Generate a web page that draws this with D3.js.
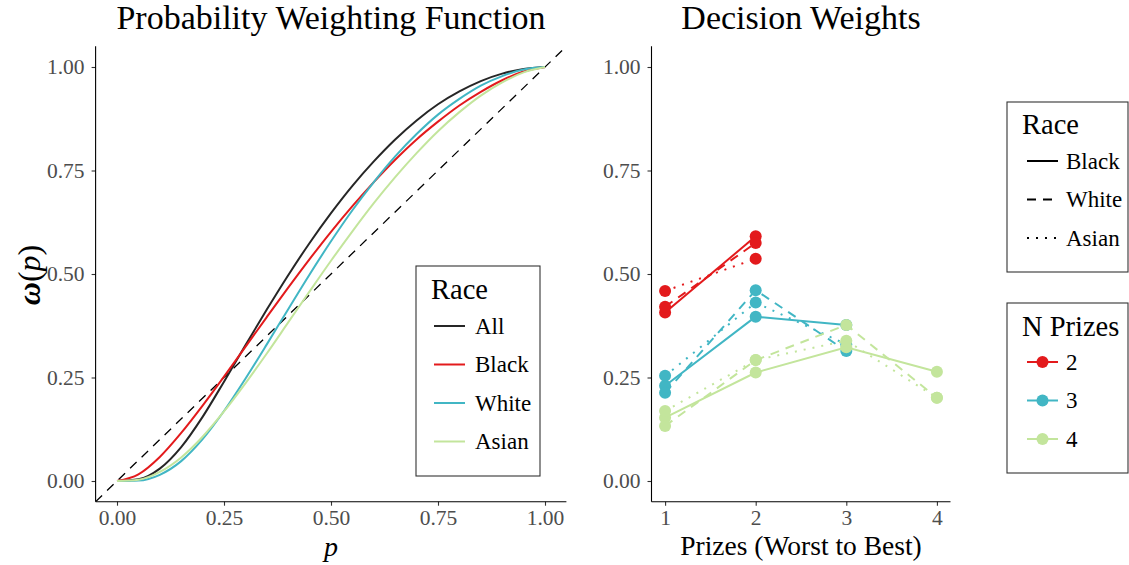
<!DOCTYPE html>
<html lang="en">
<head>
<meta charset="UTF-8">
<title>Probability Weighting Function / Decision Weights</title>
<script src="https://d3js.org/d3.v7.min.js"></script>
<style>
  body { margin: 0; background: #fff; }
  svg text { font-family: "Liberation Serif", "Times New Roman", Times, serif; }
</style>
</head>
<body>
<div id="chart"></div>
<script>
const pGrid  = [0, 0.05, 0.10, 0.15, 0.20, 0.25, 0.30, 0.35, 0.40, 0.45, 0.50,
                0.55, 0.60, 0.65, 0.70, 0.75, 0.80, 0.85, 0.90, 0.95, 1];
const wAll   = [0, 0.004, 0.030, 0.082, 0.155, 0.240, 0.328, 0.414, 0.497, 0.575, 0.647,
                0.713, 0.772, 0.825, 0.871, 0.910, 0.941, 0.966, 0.984, 0.995, 1];
const wBlack = [0, 0.016, 0.058, 0.116, 0.182, 0.252, 0.324, 0.396, 0.467, 0.536, 0.602,
                0.664, 0.722, 0.776, 0.825, 0.868, 0.907, 0.940, 0.968, 0.989, 1];
const wWhite = [0, 0.001, 0.015, 0.048, 0.101, 0.169, 0.247, 0.330, 0.415, 0.499, 0.579,
                0.654, 0.722, 0.784, 0.838, 0.885, 0.923, 0.955, 0.978, 0.994, 1];
const wAsian = [0, 0.003, 0.022, 0.057, 0.107, 0.168, 0.236, 0.308, 0.383, 0.458, 0.532,
                0.603, 0.671, 0.734, 0.792, 0.845, 0.891, 0.931, 0.963, 0.987, 1];
const curveNames = ["All", "Black", "White", "Asian"];

// ---- data: decision weights by number of prizes (index 0 = 2 prizes, 1 = 3, 2 = 4) ----
const nPrizes = [2, 3, 4];
const dwBlack = [[0.407, 0.591], [0.230, 0.397, 0.377], [0.153, 0.262, 0.323, 0.264]];
const dwWhite = [[0.421, 0.575], [0.213, 0.461, 0.314], [0.133, 0.292, 0.377, 0.201]];
const dwAsian = [[0.459, 0.537], [0.254, 0.431, 0.330], [0.169, 0.292, 0.339, 0.201]];
const raceNames = ["Black", "White", "Asian"];

const yTicks = [0, 0.25, 0.5, 0.75, 1];
const xTicksLeft = [0, 0.25, 0.5, 0.75, 1];
const xTicksRight = [1, 2, 3, 4];

const curveColor = { All: "#262626", Black: "#E31A1C", White: "#41B6C4", Asian: "#C3E59C" };
const prizeColor = { 2: "#E31A1C", 3: "#41B6C4", 4: "#C3E59C" };
const dashFor = { Black: null, White: "9,7", Asian: "2,7" };

const width = 1129, height = 565;
const svg = d3.select("#chart").append("svg")
  .attr("width", width).attr("height", height);

const y = d3.scaleLinear().domain([-0.05, 1.05]).range([501.7, 46.3]);
const xL = d3.scaleLinear().domain([-0.05, 1.05]).range([95.6, 566.4]);
const xR = d3.scaleLinear().domain([0.85, 4.15]).range([651.5, 950.5]);

const fmt = d3.format(".2f");

function drawAxes(x, xTicks, xFmt) {
  const [x0, x1] = x.range();
  const [y0, y1] = y.range();
  const yAxis = svg.append("g")
    .attr("transform", `translate(${x0},0)`)
    .call(d3.axisLeft(y).tickValues(yTicks).tickFormat(fmt).tickSize(4).tickPadding(7));
  const xAxis = svg.append("g")
    .attr("transform", `translate(0,${y0})`)
    .call(d3.axisBottom(x).tickValues(xTicks).tickFormat(xFmt).tickSize(4).tickPadding(4));
  [yAxis, xAxis].forEach(g => {
    g.select(".domain").remove();
    g.selectAll(".tick line").attr("stroke", "#333").attr("stroke-width", 1.1);
    g.selectAll(".tick text").attr("fill", "#4D4D4D").style("font-size", "21.5px");
  });
  svg.append("line").attr("x1", x0).attr("x2", x0).attr("y1", y1).attr("y2", y0)
    .attr("stroke", "#000").attr("stroke-width", 1.1);
  svg.append("line").attr("x1", x0).attr("x2", x1).attr("y1", y0).attr("y2", y0)
    .attr("stroke", "#000").attr("stroke-width", 1.1);
}

// ---------- left panel ----------
drawAxes(xL, xTicksLeft, fmt);

svg.append("defs").append("clipPath").attr("id", "clipL")
  .append("rect").attr("x", xL(-0.05)).attr("y", y(1.05))
  .attr("width", xL(1.05) - xL(-0.05)).attr("height", y(-0.05) - y(1.05));

svg.append("line")
  .attr("clip-path", "url(#clipL)")
  .attr("x1", xL(-0.05)).attr("y1", y(-0.05))
  .attr("x2", xL(1.05)).attr("y2", y(1.05))
  .attr("stroke", "#000").attr("stroke-width", 1.3).attr("stroke-dasharray", "9,7");

const curveData = { All: wAll, Black: wBlack, White: wWhite, Asian: wAsian };
const lineL = d3.line().x(d => xL(d[0])).y(d => y(d[1])).curve(d3.curveMonotoneX);
curveNames.forEach(name => {
  svg.append("path")
    .datum(pGrid.map((p, i) => [p, curveData[name][i]]))
    .attr("d", lineL)
    .attr("fill", "none")
    .attr("stroke", curveColor[name])
    .attr("stroke-width", 2);
});

svg.append("text").attr("x", (xL.range()[0] + xL.range()[1]) / 2).attr("y", 29)
  .attr("text-anchor", "middle").style("font-size", "34px").text("Probability Weighting Function");
svg.append("text").attr("x", 331).attr("y", 556)
  .attr("text-anchor", "middle").style("font-size", "28px").style("font-style", "italic").text("p");
svg.append("text").attr("transform", "translate(40,275) rotate(-90)")
  .attr("text-anchor", "middle").style("font-size", "32px")
  .html('<tspan font-style="italic" font-weight="bold">ω</tspan><tspan>(</tspan><tspan font-style="italic">p</tspan><tspan>)</tspan>');

// left legend
const legL = svg.append("g").attr("transform", "translate(416,266)");
legL.append("rect").attr("width", 124).attr("height", 210)
  .attr("fill", "#fff").attr("stroke", "#333").attr("stroke-width", 1.1);
legL.append("text").attr("x", 15).attr("y", 33).style("font-size", "28.5px").text("Race");
curveNames.forEach((name, i) => {
  const cy = 60 + i * 38.5;
  legL.append("line").attr("x1", 18).attr("x2", 49).attr("y1", cy).attr("y2", cy)
    .attr("stroke", curveColor[name]).attr("stroke-width", 2);
  legL.append("text").attr("x", 59).attr("y", cy + 7.5).style("font-size", "23px").text(name);
});

// ---------- right panel ----------
drawAxes(xR, xTicksRight, d3.format("d"));

const dwData = { Black: dwBlack, White: dwWhite, Asian: dwAsian };
const lineR = d3.line().x(d => xR(d[0])).y(d => y(d[1]));
nPrizes.forEach((n, k) => {
  raceNames.forEach(race => {
    const vals = dwData[race][k].map((v, i) => [i + 1, v]);
    svg.append("path").datum(vals).attr("d", lineR)
      .attr("fill", "none").attr("stroke", prizeColor[n]).attr("stroke-width", 2)
      .attr("stroke-dasharray", dashFor[race]);
  });
  raceNames.forEach(race => {
    svg.selectAll(null).data(dwData[race][k].map((v, i) => [i + 1, v]))
      .enter().append("circle")
      .attr("cx", d => xR(d[0])).attr("cy", d => y(d[1])).attr("r", 6)
      .attr("fill", prizeColor[n]);
  });
});

svg.append("text").attr("x", (xR.range()[0] + xR.range()[1]) / 2).attr("y", 29)
  .attr("text-anchor", "middle").style("font-size", "34px").text("Decision Weights");
svg.append("text").attr("x", 801).attr("y", 555)
  .attr("text-anchor", "middle").style("font-size", "27.5px").text("Prizes (Worst to Best)");

// right legends
const legR1 = svg.append("g").attr("transform", "translate(1007,102)");
legR1.append("rect").attr("width", 121).attr("height", 170)
  .attr("fill", "#fff").attr("stroke", "#333").attr("stroke-width", 1.1);
legR1.append("text").attr("x", 15).attr("y", 32).style("font-size", "28.5px").text("Race");
raceNames.forEach((name, i) => {
  const cy = 59 + i * 38.5;
  legR1.append("line").attr("x1", 20).attr("x2", 51).attr("y1", cy).attr("y2", cy)
    .attr("stroke", "#000").attr("stroke-width", 2).attr("stroke-dasharray", dashFor[name]);
  legR1.append("text").attr("x", 59).attr("y", cy + 7.5).style("font-size", "23px").text(name);
});

const legR2 = svg.append("g").attr("transform", "translate(1007,303)");
legR2.append("rect").attr("width", 121).attr("height", 170)
  .attr("fill", "#fff").attr("stroke", "#333").attr("stroke-width", 1.1);
legR2.append("text").attr("x", 15).attr("y", 33).style("font-size", "28.5px").text("N Prizes");
nPrizes.forEach((n, i) => {
  const cy = 59 + i * 38.5;
  legR2.append("line").attr("x1", 20).attr("x2", 51).attr("y1", cy).attr("y2", cy)
    .attr("stroke", prizeColor[n]).attr("stroke-width", 2);
  legR2.append("circle").attr("cx", 35.5).attr("cy", cy).attr("r", 6).attr("fill", prizeColor[n]);
  legR2.append("text").attr("x", 59).attr("y", cy + 7.5).style("font-size", "23px").text(n);
});
</script>
</body>
</html>
